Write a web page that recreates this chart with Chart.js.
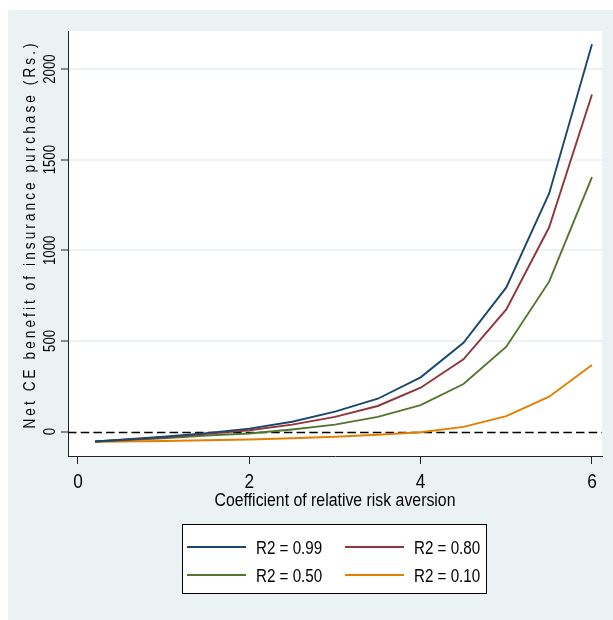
<!DOCTYPE html>
<html>
<head>
<meta charset="utf-8">
<script src="https://cdn.jsdelivr.net/npm/chart.js@4.4.1/dist/chart.umd.min.js"></script>
<style>
  html, body { margin: 0; padding: 0; background: #ffffff; }
  #c { display: block; }
</style>
</head>
<body>
<canvas id="c" width="613" height="620"></canvas>
<script>
// ---- data ----
const X_VALUES = [0.2, 0.5, 1.0, 1.5, 2.0, 2.5, 3.0, 3.5, 4.0, 4.5, 5.0, 5.5, 6.0];
const SERIES_LABELS = ['R2 = 0.99', 'R2 = 0.80', 'R2 = 0.50', 'R2 = 0.10'];
const R2_099 = [-55, -45, -29, -9, 16, 54, 110, 181, 299, 490, 795, 1314, 2137];
const R2_080 = [-55, -47, -33, -13, 7, 38, 81, 141, 242, 398, 674, 1127, 1860];
const R2_050 = [-55, -49, -38, -22, -11, 11, 38, 81, 146, 262, 468, 827, 1404];
const R2_010 = [-56, -55, -52, -48, -44, -37, -29, -18, -4, 26, 85, 192, 367];
const X_TICKS = [0, 2, 4, 6];
const Y_TICKS = [0, 500, 1000, 1500, 2000];
const REF_LINE_Y = 0;
const X_TITLE = 'Coefficient of relative risk aversion';
const Y_TITLE = 'Net CE benefit of insurance purchase (Rs.)';

// ---- styles ----
const COLORS = ['#1A476F', '#90353B', '#55752F', '#E37E00'];
const BG = '#EAF2F3';
const FONT = '"Liberation Sans", Arial, sans-serif';

const SERIES = [R2_099, R2_080, R2_050, R2_010];
const datasets = SERIES.map((vals, k) => ({
  label: SERIES_LABELS[k],
  data: X_VALUES.map((x, i) => ({ x: x, y: vals[i] })),
  borderColor: COLORS[k],
  backgroundColor: COLORS[k],
  borderWidth: 1.9,
  pointRadius: 0,
  tension: 0,
  fill: false
}));

function narrowText(ctx, text, x, y, rot, align, squeeze, spacing) {
  ctx.save();
  ctx.translate(x, y);
  if (rot) ctx.rotate(rot);
  ctx.scale(squeeze, 1);
  ctx.textAlign = align;
  ctx.textBaseline = 'alphabetic';
  if (spacing) {
    ctx.letterSpacing = spacing.toFixed(2) + 'px';
    ctx.fillText(text, align === 'center' ? spacing / 2 : 0, 0);
  } else {
    ctx.fillText(text, 0, 0);
  }
  ctx.restore();
}

const decorPlugin = {
  id: 'decor',
  beforeDraw(chart) {
    const ctx = chart.ctx, a = chart.chartArea;
    ctx.save();
    ctx.fillStyle = '#ffffff';
    ctx.fillRect(0, 0, chart.width, chart.height);
    ctx.fillStyle = BG;
    ctx.fillRect(8, 10, chart.width - 8, chart.height - 10);
    ctx.fillStyle = '#ffffff';
    ctx.fillRect(a.left, a.top, a.right - a.left, a.bottom - a.top);
    ctx.restore();
  },
  beforeDatasetsDraw(chart) {
    const ctx = chart.ctx, a = chart.chartArea, ys = chart.scales.y;
    const py = Math.round(ys.getPixelForValue(REF_LINE_Y)) + 0.5;
    ctx.save();
    ctx.strokeStyle = '#000';
    ctx.lineWidth = 1.3;
    ctx.setLineDash([8.5, 4.2]);
    ctx.beginPath();
    ctx.moveTo(a.left, py);
    ctx.lineTo(a.right, py);
    ctx.stroke();
    ctx.restore();
  },
  afterDraw(chart) {
    const ctx = chart.ctx, ys = chart.scales.y, xs = chart.scales.x, a = chart.chartArea;
    ctx.save();
    ctx.fillStyle = '#000';
    // y tick labels (rotated)
    ctx.font = '16.5px ' + FONT;
    ys.ticks.forEach(t => {
      narrowText(ctx, String(t.value), 55, ys.getPixelForValue(t.value), -Math.PI / 2, 'center', 0.8);
    });
    // x tick labels
    ctx.font = '21px ' + FONT;
    xs.ticks.forEach(t => {
      narrowText(ctx, String(t.value), xs.getPixelForValue(t.value), 488, 0, 'center', 0.82);
    });
    // x title
    ctx.font = '18px ' + FONT;
    narrowText(ctx, X_TITLE, (a.left + a.right) / 2, 506, 0, 'center', 0.88);
    // y title with letter spacing
    ctx.font = '16.5px ' + FONT;
    const sq = 0.82;
    const w0 = ctx.measureText(Y_TITLE).width;
    const sp = Math.max(0, (385 / sq - w0) / (Y_TITLE.length - 1));
    narrowText(ctx, Y_TITLE, 35, 236, -Math.PI / 2, 'center', sq, sp);

    // legend
    const L = { x: 182, y: 524, w: 305, h: 70 };
    ctx.fillStyle = '#ffffff';
    ctx.fillRect(L.x, L.y, L.w, L.h);
    ctx.strokeStyle = '#000';
    ctx.lineWidth = 1;
    ctx.strokeRect(L.x + 0.5, L.y + 0.5, L.w - 1, L.h - 1);
    const cols = [5, 163], rows = [23, 51];
    ctx.font = '18.5px ' + FONT;
    chart.data.datasets.forEach((ds, k) => {
      const cx = L.x + cols[k % 2], cy = L.y + rows[Math.floor(k / 2)];
      ctx.strokeStyle = ds.borderColor;
      ctx.lineWidth = 2;
      ctx.beginPath();
      ctx.moveTo(cx, cy);
      ctx.lineTo(cx + 59, cy);
      ctx.stroke();
      ctx.fillStyle = '#000';
      narrowText(ctx, ds.label, cx + 69, cy + 6.5, 0, 'left', 0.82);
    });
    ctx.restore();
  }
};

new Chart(document.getElementById('c'), {
  type: 'line',
  data: { datasets: datasets },
  plugins: [decorPlugin],
  options: {
    responsive: false,
    animation: false,
    events: [],
    layout: { padding: { left: 0, top: 31, right: 11, bottom: 0 } },
    plugins: { legend: { display: false }, tooltip: { enabled: false } },
    scales: {
      x: {
        type: 'linear',
        min: -0.116,
        max: 6.117,
        afterBuildTicks: s => { s.ticks = X_TICKS.map(v => ({ value: v })); },
        afterFit: s => { s.height = 164; },
        grid: { drawOnChartArea: false, drawTicks: true, tickLength: 8, tickColor: '#222', tickWidth: 1 },
        border: { display: true, color: '#222', width: 1 },
        ticks: { display: false }
      },
      y: {
        type: 'linear',
        min: -135,
        max: 2210,
        afterBuildTicks: s => { s.ticks = Y_TICKS.map(v => ({ value: v })); },
        afterFit: s => { s.width = 68; },
        grid: {
          drawOnChartArea: true, drawTicks: true, tickLength: 7,
          color: c => (c.tick && c.tick.value === REF_LINE_Y) ? 'rgba(0,0,0,0)' : BG,
          lineWidth: 2,
          tickColor: '#222', tickWidth: 1
        },
        border: { display: true, color: '#222', width: 1 },
        ticks: { display: false }
      }
    }
  }
});
</script>
</body>
</html>
